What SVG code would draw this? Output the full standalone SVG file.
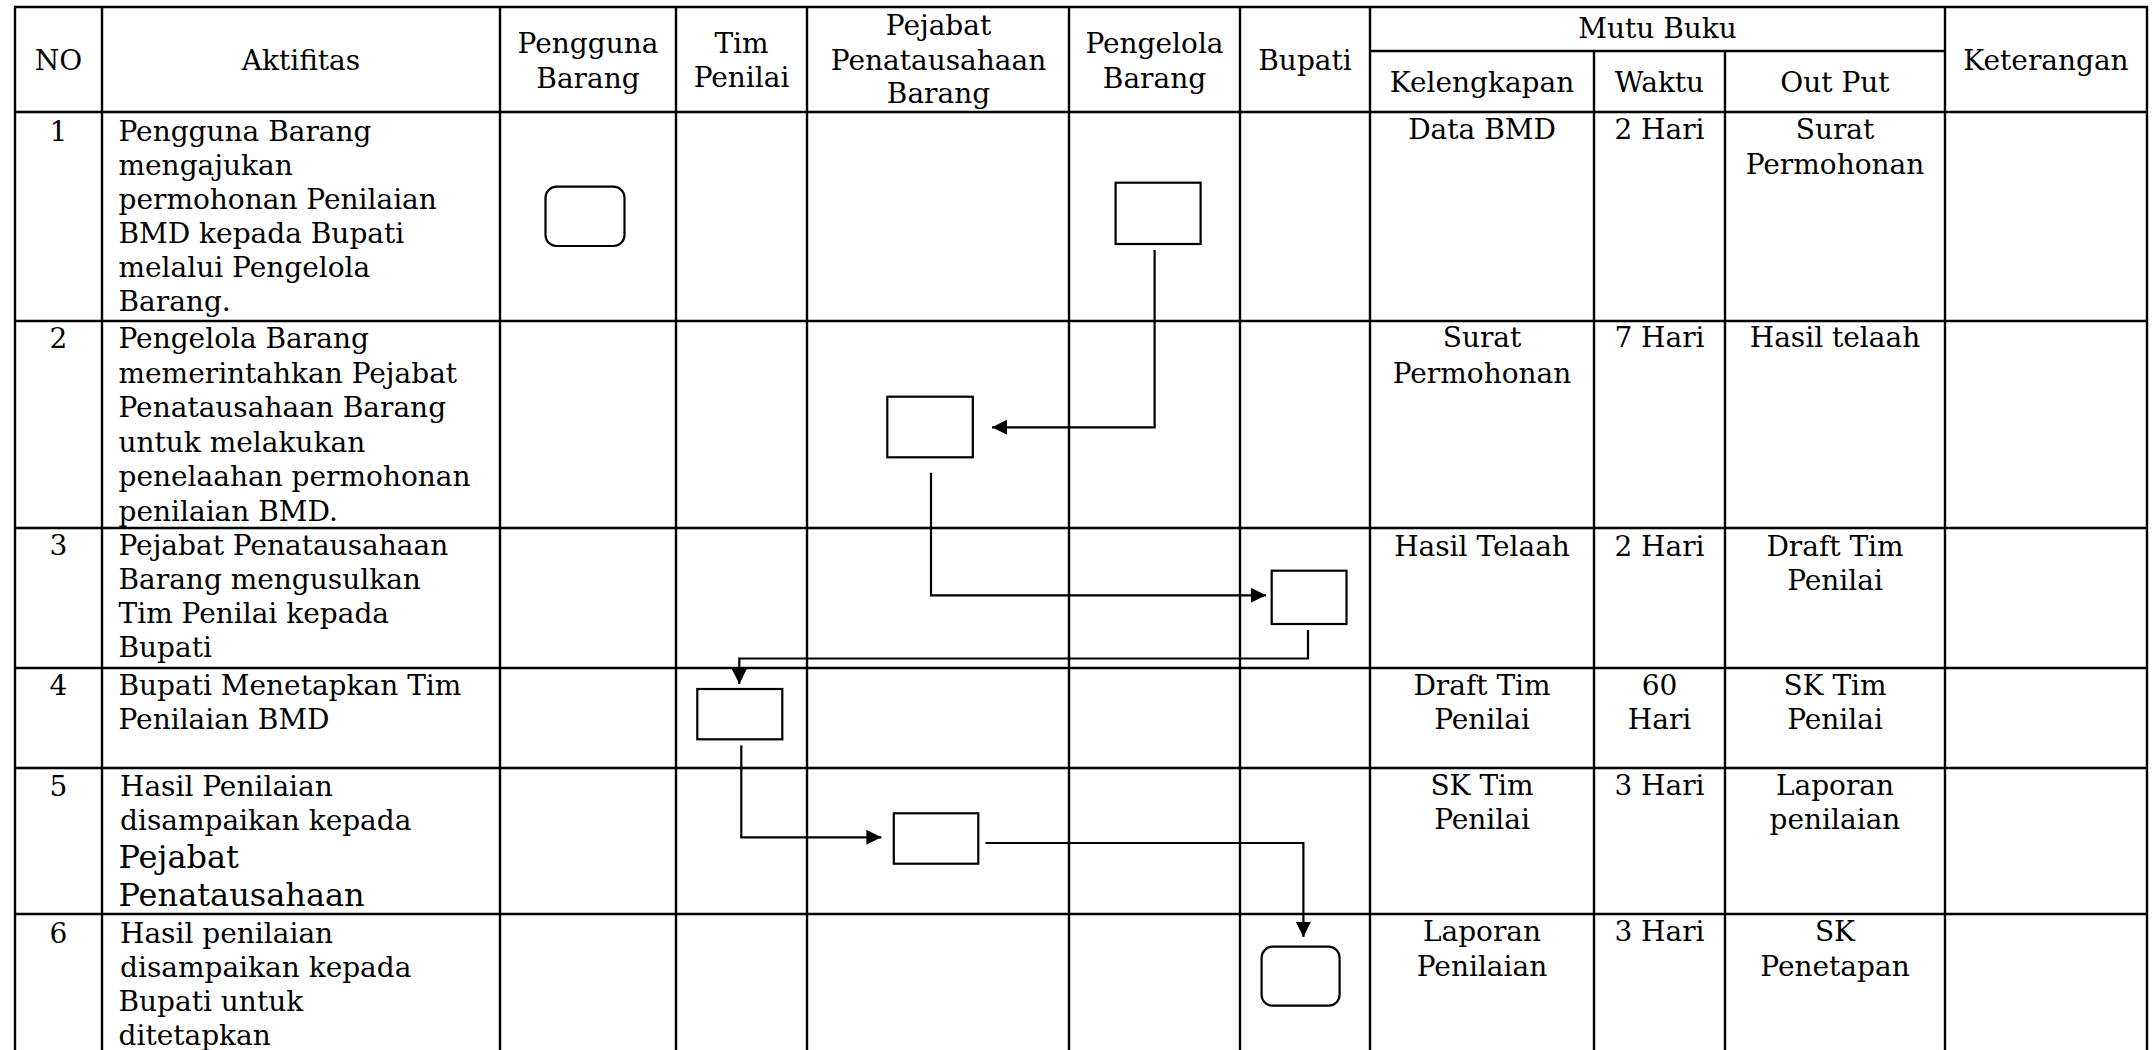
<svg xmlns="http://www.w3.org/2000/svg" width="2154" height="1050" viewBox="0 0 2154 1050">
<style>
text{font-family:"DejaVu Serif","Liberation Serif",serif;font-size:28px;fill:#000}
.c{text-anchor:middle}
.big{font-size:32px}
.grid{stroke:#000;stroke-width:2.4;fill:none}
.box{stroke:#000;stroke-width:2.2;fill:#fff}
.con{stroke:#000;stroke-width:2.2;fill:none;stroke-linecap:butt;stroke-linejoin:miter}
</style>
<defs>
<marker id="ah" markerUnits="userSpaceOnUse" markerWidth="16" markerHeight="16" refX="15" refY="7.5" orient="auto">
<path d="M0,0 L15,7.5 L0,15 z" fill="#000"/>
</marker>
</defs>
<rect x="0" y="0" width="2154" height="1050" fill="#fff"/>
<g id="table">
<path class="grid" d="M15,1050 V7 H2147 V1050"/>
<path class="grid" d="M102,7 V1050 M500,7 V1050 M676,7 V1050 M807,7 V1050 M1069,7 V1050 M1240,7 V1050 M1370,7 V1050 M1594,51 V1050 M1725,51 V1050 M1945,7 V1050"/>
<path class="grid" d="M1370,51 H1945 M15,112 H2147 M15,321 H2147 M15,528 H2147 M15,668 H2147 M15,768 H2147 M15,914 H2147"/>
</g>
<g id="header">
<text class="c" x="58.5" y="70">NO</text>
<text class="c" x="301" y="70">Aktifitas</text>
<text class="c" x="588" y="53">Pengguna</text>
<text class="c" x="588" y="88">Barang</text>
<text class="c" x="741.5" y="53">Tim</text>
<text class="c" x="741.5" y="87">Penilai</text>
<text class="c" x="938.5" y="35">Pejabat</text>
<text class="c" x="938.5" y="70">Penatausahaan</text>
<text class="c" x="938.5" y="103">Barang</text>
<text class="c" x="1154.5" y="53">Pengelola</text>
<text class="c" x="1154.5" y="88">Barang</text>
<text class="c" x="1305" y="70">Bupati</text>
<text class="c" x="1657.5" y="38">Mutu Buku</text>
<text class="c" x="1482" y="92">Kelengkapan</text>
<text class="c" x="1659.5" y="92">Waktu</text>
<text class="c" x="1835" y="92">Out Put</text>
<text class="c" x="2046" y="70">Keterangan</text>
</g>
<g id="row1">
<text class="c" x="58.5" y="141">1</text>
<text x="118.5" y="141">Pengguna Barang</text>
<text x="118.5" y="175">mengajukan</text>
<text x="118.5" y="209">permohonan Penilaian</text>
<text x="118.5" y="243">BMD kepada Bupati</text>
<text x="118.5" y="277">melalui Pengelola</text>
<text x="118.5" y="311">Barang.</text>
<text class="c" x="1482" y="139">Data BMD</text>
<text class="c" x="1659.5" y="139">2 Hari</text>
<text class="c" x="1835" y="139">Surat</text>
<text class="c" x="1835" y="174">Permohonan</text>
</g>
<g id="row2">
<text class="c" x="58.5" y="348">2</text>
<text x="118.5" y="348">Pengelola Barang</text>
<text x="118.5" y="382.5">memerintahkan Pejabat</text>
<text x="118.5" y="417">Penatausahaan Barang</text>
<text x="118.5" y="451.5">untuk melakukan</text>
<text x="118.5" y="486">penelaahan permohonan</text>
<text x="118.5" y="520.5">penilaian BMD.</text>
<text class="c" x="1482" y="347">Surat</text>
<text class="c" x="1482" y="382.5">Permohonan</text>
<text class="c" x="1659.5" y="347">7 Hari</text>
<text class="c" x="1835" y="347">Hasil telaah</text>
</g>
<g id="row3">
<text class="c" x="58.5" y="555">3</text>
<text x="118.5" y="555">Pejabat Penatausahaan</text>
<text x="118.5" y="589">Barang mengusulkan</text>
<text x="118.5" y="623">Tim Penilai kepada</text>
<text x="118.5" y="657">Bupati</text>
<text class="c" x="1482" y="556">Hasil Telaah</text>
<text class="c" x="1659.5" y="556">2 Hari</text>
<text class="c" x="1835" y="556">Draft Tim</text>
<text class="c" x="1835" y="590">Penilai</text>
</g>
<g id="row4">
<text class="c" x="58.5" y="695">4</text>
<text x="118.5" y="695">Bupati Menetapkan Tim</text>
<text x="118.5" y="729">Penilaian BMD</text>
<text class="c" x="1482" y="695">Draft Tim</text>
<text class="c" x="1482" y="729">Penilai</text>
<text class="c" x="1659.5" y="695">60</text>
<text class="c" x="1659.5" y="729">Hari</text>
<text class="c" x="1835" y="695">SK Tim</text>
<text class="c" x="1835" y="729">Penilai</text>
</g>
<g id="row5">
<text class="c" x="58.5" y="796">5</text>
<text x="120" y="796">Hasil Penilaian</text>
<text x="120" y="830">disampaikan kepada</text>
<text class="big" x="118.5" y="868">Pejabat</text>
<text class="big" x="118.5" y="906">Penatausahaan</text>
<text class="c" x="1482" y="795">SK Tim</text>
<text class="c" x="1482" y="829">Penilai</text>
<text class="c" x="1659.5" y="795">3 Hari</text>
<text class="c" x="1835" y="795">Laporan</text>
<text class="c" x="1835" y="829">penilaian</text>
</g>
<g id="row6">
<text class="c" x="58.5" y="943">6</text>
<text x="120" y="943">Hasil penilaian</text>
<text x="120" y="977">disampaikan kepada</text>
<text x="118.5" y="1011">Bupati untuk</text>
<text x="118.5" y="1045">ditetapkan</text>
<text class="c" x="1482" y="941">Laporan</text>
<text class="c" x="1482" y="975.5">Penilaian</text>
<text class="c" x="1659.5" y="941">3 Hari</text>
<text class="c" x="1835" y="941">SK</text>
<text class="c" x="1835" y="975.5">Penetapan</text>
</g>
<g id="node-pengguna-1"><rect class="box" x="545.5" y="186.7" width="79" height="59.3" rx="11"/></g>
<g id="node-pengelola-1"><rect class="box" x="1115.6" y="182.7" width="85" height="61.3"/></g>
<g id="node-pejabat-2"><rect class="box" x="887.3" y="396.7" width="85.5" height="60.6"/></g>
<g id="node-bupati-3"><rect class="box" x="1271.7" y="570.7" width="74.8" height="53.3"/></g>
<g id="node-tim-4"><rect class="box" x="697.3" y="689" width="85" height="50.3"/></g>
<g id="node-pejabat-5"><rect class="box" x="893.8" y="813.3" width="84.5" height="50.4"/></g>
<g id="node-bupati-6"><rect class="box" x="1261.6" y="946.7" width="78" height="59" rx="11"/></g>
<g id="connectors">
<path class="con" d="M1154.6,250 V427.3 H992" marker-end="url(#ah)"/>
<path class="con" d="M931,472.7 V595.3 H1266" marker-end="url(#ah)"/>
<path class="con" d="M1308,630 V658.5 H739.3 V684" marker-end="url(#ah)"/>
<path class="con" d="M741.3,745.5 V837.3 H881.4" marker-end="url(#ah)"/>
<path class="con" d="M985.6,843 H1303.4 V937" marker-end="url(#ah)"/>
</g>
</svg>
